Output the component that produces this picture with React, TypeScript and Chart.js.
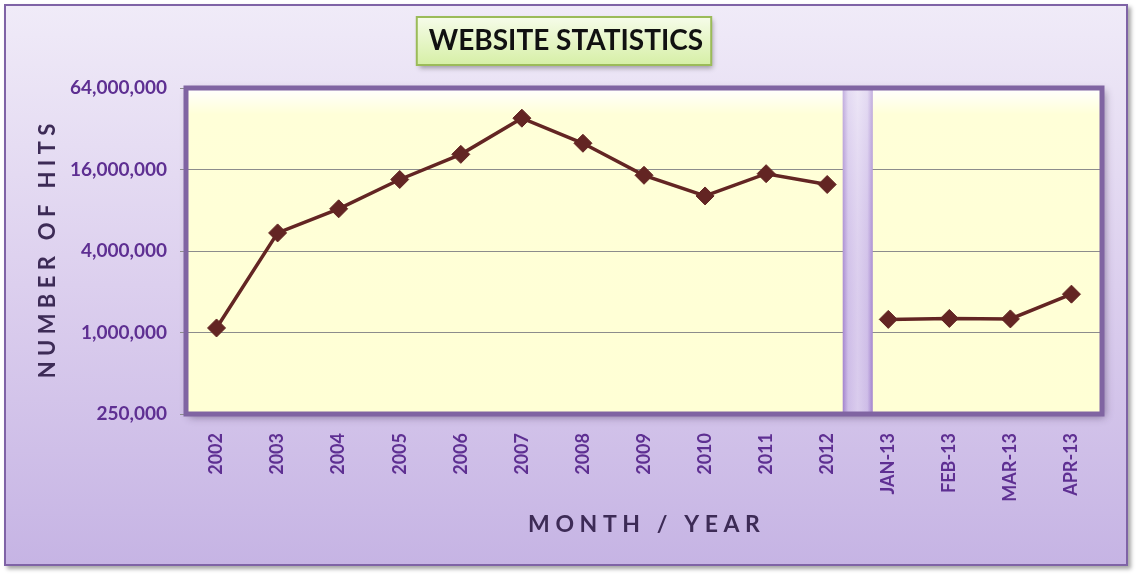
import { useEffect, useRef } from 'react';
import { Chart, registerables } from 'chart.js';

Chart.register(...registerables);

const TITLE = 'WEBSITE STATISTICS';
const Y_TITLE = 'N U M B E R   O F   H I T S';
const X_TITLE = 'M O N T H   /   Y E A R';

const yearCategories = ['2002', '2003', '2004', '2005', '2006', '2007', '2008', '2009', '2010', '2011', '2012'];
const monthCategories = ['JAN-13', 'FEB-13', 'MAR-13', 'APR-13'];
const yearlyHits = [1080000, 5440000, 8200000, 13500000, 20700000, 38300000, 25000000, 14500000, 10200000, 14900000, 12400000];
const monthlyHits = [1250000, 1270000, 1260000, 1920000];
const yTicks = [250000, 1000000, 4000000, 16000000, 64000000];

const categories = [...yearCategories, ...monthCategories];
const yearlySeries = [...yearlyHits, ...monthCategories.map(() => null)];
const monthlySeries = [...yearCategories.map(() => null), ...monthlyHits];

const LINE = '#632523';
const TICK_COLOR = '#5E2F92';
const TITLE_COLOR = '#3D2B56';

const decor = {
  id: 'decor',
  beforeDraw(chart: any) {
    const { ctx, chartArea: a } = chart;
    ctx.save();
    // title box
    const tb = chart.titleBlock;
    ctx.font = 'bold 28px Lato';
    const w = ctx.measureText(TITLE).width;
    const cx = (tb.left + tb.right) / 2 - 2;
    const bx = cx - w / 2 - 10;
    const bw = w + 20;
    const by = 11;
    const bh = 48;
    ctx.save();
    ctx.shadowColor = 'rgba(0,0,0,0.35)';
    ctx.shadowBlur = 5;
    ctx.shadowOffsetX = 2;
    ctx.shadowOffsetY = 3;
    const g = ctx.createLinearGradient(0, by, 0, by + bh);
    g.addColorStop(0, '#F6FCE9');
    g.addColorStop(1, '#D6EFA6');
    ctx.fillStyle = g;
    ctx.fillRect(bx, by, bw, bh);
    ctx.restore();
    ctx.strokeStyle = '#9BBB59';
    ctx.lineWidth = 2;
    ctx.strokeRect(bx, by, bw, bh);

    // plot area background
    ctx.save();
    ctx.shadowColor = 'rgba(40,20,60,0.45)';
    ctx.shadowBlur = 8;
    ctx.shadowOffsetX = 3;
    ctx.shadowOffsetY = 3;
    const pg = ctx.createLinearGradient(0, a.top, 0, a.bottom);
    pg.addColorStop(0, '#FFFFFF');
    pg.addColorStop(0.08, '#FFFFD8');
    pg.addColorStop(1, '#FFFFD5');
    ctx.fillStyle = pg;
    ctx.fillRect(a.left, a.top, a.right - a.left, a.bottom - a.top);
    ctx.restore();
    ctx.restore();
  },
  beforeDatasetsDraw(chart: any) {
    const { ctx, chartArea: a, scales } = chart;
    const xs = scales.x;
    ctx.save();
    // separator between yearly and monthly data
    const cx = (xs.getPixelForValue(yearCategories.length - 1) + xs.getPixelForValue(yearCategories.length)) / 2;
    const sw = 30;
    const sg = ctx.createLinearGradient(cx - sw / 2, 0, cx + sw / 2, 0);
    sg.addColorStop(0, '#A486CE');
    sg.addColorStop(0.18, '#D6C8EC');
    sg.addColorStop(0.5, '#E3D9F2');
    sg.addColorStop(0.82, '#D6C8EC');
    sg.addColorStop(1, '#A486CE');
    ctx.fillStyle = sg;
    ctx.fillRect(cx - sw / 2, a.top, sw, a.bottom - a.top + 2);
    const vg = ctx.createLinearGradient(0, a.top, 0, a.bottom);
    vg.addColorStop(0, 'rgba(255,255,255,0.35)');
    vg.addColorStop(1, 'rgba(150,110,200,0.12)');
    ctx.fillStyle = vg;
    ctx.fillRect(cx - sw / 2, a.top, sw, a.bottom - a.top + 2);

    // plot border
    ctx.strokeStyle = '#8064A2';
    ctx.lineWidth = 5;
    ctx.strokeRect(a.left, a.top, a.right - a.left, a.bottom - a.top);
    ctx.restore();
  },
};

export default function App() {
  const ref = useRef<HTMLCanvasElement | null>(null);

  useEffect(() => {
    if (!ref.current) return;
    const chart = new Chart(ref.current, {
      type: 'line',
      data: {
        labels: categories,
        datasets: [
          {
            label: 'Yearly',
            data: yearlySeries,
            borderColor: LINE,
            backgroundColor: LINE,
            borderWidth: 3.5,
            pointStyle: 'rectRot',
            pointRadius: 9,
            pointBorderWidth: 1,
            pointBackgroundColor: LINE,
            pointBorderColor: LINE,
            spanGaps: false,
          },
          {
            label: 'Monthly',
            data: monthlySeries,
            borderColor: LINE,
            backgroundColor: LINE,
            borderWidth: 3.5,
            pointStyle: 'rectRot',
            pointRadius: 9,
            pointBorderWidth: 1,
            pointBackgroundColor: LINE,
            pointBorderColor: LINE,
            spanGaps: false,
          },
        ],
      },
      options: {
        animation: false,
        responsive: true,
        maintainAspectRatio: false,
        layout: { padding: { left: 24, right: 24, top: 0, bottom: 0 } },
        plugins: {
          legend: { display: false },
          tooltip: { enabled: false },
          title: {
            display: true,
            text: TITLE,
            color: '#111111',
            font: { family: 'Lato', size: 28, weight: 'bold', lineHeight: 1.2 },
            padding: { top: 18, bottom: 30.4 },
          },
        },
        scales: {
          x: {
            type: 'category',
            offset: true,
            grid: { display: false, drawTicks: false, offset: true },
            border: { display: false },
            ticks: {
              color: TICK_COLOR,
              font: { family: 'Lato', size: 18, weight: 'bold' },
              minRotation: 90,
              maxRotation: 90,
              autoSkip: false,
              padding: 19,
            },
            title: {
              display: true,
              text: X_TITLE,
              color: TITLE_COLOR,
              font: { family: 'Lato', size: 23, weight: 'bold', lineHeight: 1.2 },
              padding: { top: 0, bottom: 25.2 },
            },
            afterFit(scale: any) {
              scale.height = 150;
            },
          },
          y: {
            type: 'logarithmic',
            min: yTicks[0],
            max: yTicks[yTicks.length - 1],
            border: { display: false },
            grid: { color: '#8C8C8C', lineWidth: 1, tickLength: 6, drawTicks: true },
            afterBuildTicks(scale: any) {
              scale.ticks = yTicks.map((v) => ({ value: v }));
            },
            ticks: {
              color: TICK_COLOR,
              font: { family: 'Lato', size: 19, weight: 'bold' },
              padding: 13,
              callback: (v: any) => Number(v).toLocaleString('en-US'),
            },
            title: {
              display: true,
              text: Y_TITLE,
              color: TITLE_COLOR,
              font: { family: 'Lato', size: 22, weight: 'bold', lineHeight: 1.2 },
              padding: { top: 4.8, bottom: 0 },
            },
            afterFit(scale: any) {
              scale.width = 156;
            },
          },
        },
      },
      plugins: [decor],
    });
    return () => chart.destroy();
  }, []);

  return (
    <div
      style={{
        position: 'absolute',
        left: 4,
        top: 4,
        width: 1120,
        height: 558,
        border: '2px solid #7F63A6',
        background: 'linear-gradient(to bottom, #F0EBF8 0%, #DCCFEE 50%, #C6B4E4 100%)',
        boxShadow: '3px 3px 4px rgba(0,0,0,0.35)',
      }}
    >
      <canvas ref={ref} width={1120} height={558} style={{ display: 'block' }} />
    </div>
  );
}
